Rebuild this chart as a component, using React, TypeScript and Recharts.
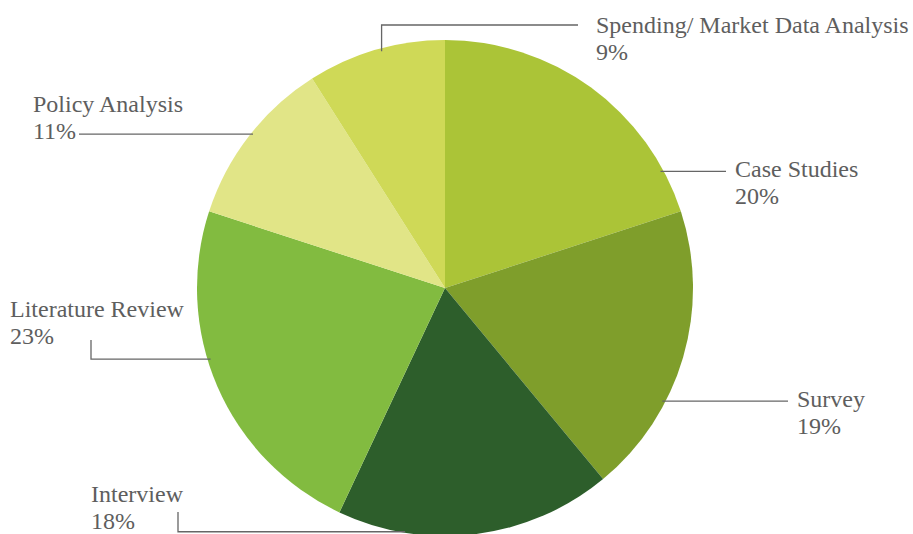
import React from 'react';
import { PieChart, Pie, Cell } from 'recharts';

const categories = ['Case Studies', 'Survey', 'Interview', 'Literature Review', 'Policy Analysis', 'Spending/ Market Data Analysis'];
const shares = [20, 19, 18, 23, 11, 9];
const colors = ['#abc437', '#7f9e2b', '#2d5e2b', '#82bb40', '#e1e587', '#cfd957'];

const data = categories.map((name, i) => ({ name, value: shares[i] }));

// label layout (angle clockwise from 12 o'clock, offsets relative to pie centre)
type Layout = { angle: number; r: number; kind: 'h' | 'hv' | 'vh'; a: number; b?: number; tx: number; ty: number };
const labelLayout: Layout[] = [
  { angle: 61.6, r: 3, kind: 'h', a: 281, tx: 290, ty: -111 },
  { angle: 117.5, r: 3, kind: 'h', a: 343, tx: 352, ty: 119 },
  { angle: 189.3, r: 1, kind: 'hv', a: -267, b: 224, tx: -354, ty: 214 },
  { angle: 253.1, r: 3, kind: 'hv', a: -354, b: 52, tx: -435, ty: 29 },
  { angle: 308.7, r: 2, kind: 'h', a: -366, tx: -412, ty: -176 },
  { angle: 345, r: 3, kind: 'vh', a: 133, b: -263, tx: 151, ty: -255 },
];

const FONT = '"Liberation Serif", "Times New Roman", serif';

const renderLabel = (props: any) => {
  const { cx, cy, outerRadius, index, name, value } = props;
  const L = labelLayout[index];
  const rad = (L.angle * Math.PI) / 180;
  const r = outerRadius - L.r;
  const ax = cx + r * Math.sin(rad);
  const ay = cy - r * Math.cos(rad);
  let pts = '';
  if (L.kind === 'h') {
    pts = `${ax},${ay} ${cx + L.a},${ay}`;
  } else if (L.kind === 'hv') {
    pts = `${ax},${ay} ${cx + L.a},${ay} ${cx + L.a},${cy + (L.b as number)}`;
  } else {
    pts = `${ax},${ay} ${ax},${cy + (L.b as number)} ${cx + L.a},${cy + (L.b as number)}`;
  }
  return (
    <g key={`lbl-${index}`}>
      <polyline points={pts} fill="none" stroke="#666666" strokeWidth={1.3} />
      <text x={cx + L.tx} y={cy + L.ty} fill="#5e5e5e" fontFamily={FONT} fontSize={24} textAnchor="start">
        {name}
      </text>
      <text x={cx + L.tx} y={cy + L.ty + 27} fill="#5e5e5e" fontFamily={FONT} fontSize={24} textAnchor="start">
        {`${value}%`}
      </text>
    </g>
  );
};

export default function App() {
  return (
    <div style={{ position: 'absolute', left: 0, top: 0, width: 913, height: 534, background: '#ffffff' }}>
      <PieChart width={913} height={534} margin={{ top: 0, right: 0, bottom: 0, left: 0 }}>
        <Pie
          data={data}
          dataKey="value"
          nameKey="name"
          cx={445}
          cy={288}
          outerRadius={248}
          startAngle={90}
          endAngle={-270}
          stroke="none"
          label={renderLabel}
          labelLine={false}
          isAnimationActive={false}
        >
          {data.map((d, i) => (
            <Cell key={d.name} fill={colors[i]} />
          ))}
        </Pie>
      </PieChart>
    </div>
  );
}
